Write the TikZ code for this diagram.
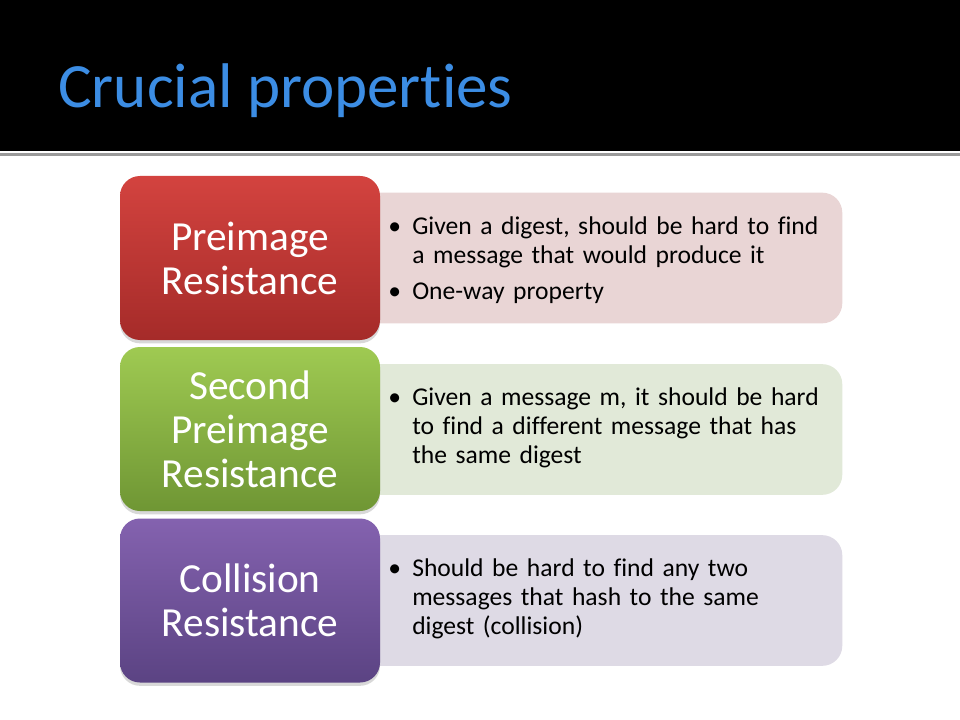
\documentclass[tikz,border=0pt]{standalone}
\usepackage{fontspec}
\setmainfont{Carlito}[Ligatures=NoCommon]
\usetikzlibrary{shadows}
\definecolor{titleblue}{HTML}{3C8DE4}
\definecolor{redtop}{HTML}{D3433F}
\definecolor{redbot}{HTML}{A52B29}
\definecolor{greentop}{HTML}{9FCA52}
\definecolor{greenbot}{HTML}{6F9634}
\definecolor{violettop}{HTML}{8462AF}
\definecolor{violetbot}{HTML}{5B4383}
\definecolor{redpale}{HTML}{E9D5D5}
\definecolor{greenpale}{HTML}{E1E9D8}
\definecolor{violetpale}{HTML}{DEDAE5}
\definecolor{rule}{HTML}{9A9A9A}
\newcommand{\pitem}[1]{\par\hangindent=18pt\hangafter=1\noindent\makebox[18pt][l]{\textbullet}#1}
\newcommand{\nl}{\hfil\break}
\tikzset{
  keybox/.style 2 args={rounded corners=15pt, top color=#1, bottom color=#2, draw=none,
    minimum width=195pt, minimum height=123pt, text=white, align=center,
    font=\fontsize{31}{33}\selectfont,
    drop shadow={opacity=0.3, shadow xshift=0pt, shadow yshift=-2.5pt}},
  pale/.style={rounded corners=15pt, fill=#1, anchor=west, inner xsep=0pt,
    minimum height=98pt, text width=369pt,
    font=\fontsize{19.2}{21.75}\selectfont},
  heading/.style={anchor=base west, inner sep=0pt, text=titleblue,
    font=\fontsize{47.3}{50}\selectfont}
}
\begin{document}
\begin{tikzpicture}[x=0.75pt,y=0.75pt]
\useasboundingbox (0,0) rectangle (960,-720);
\fill[white] (0,0) rectangle (960,-720);

% Title bar
\fill[black] (0,0) rectangle (960,-151);
\fill[rule] (0,-153) rectangle (960,-156);
\node[heading] (title) at (58,-108) {Crucial properties};

% Descriptions
\node[pale=redpale] (preinfo) at (350,-258) {\leftskip=28.5pt\parskip=5pt
  \pitem{Given a digest, should be hard to find\nl a message that would produce it}
  \pitem{One-way property}\par\kern 10.5pt};
\node[pale=greenpale] (secinfo) at (350,-429.5) {\leftskip=28.5pt
  \pitem{Given a message m, it should be hard\nl to find a different message that has\nl the same digest}\par\kern 10.5pt};
\node[pale=violetpale] (collinfo) at (350,-600.5) {\leftskip=28.5pt
  \pitem{Should be hard to find any two\nl messages that hash to the same\nl digest (collision)}\par\kern 10.5pt};

% Properties
\node[keybox={redtop}{redbot}] (preimage) at (250,-258) {Preimage\\Resistance};
\node[keybox={greentop}{greenbot}] (second) at (250,-429) {Second\\Preimage\\Resistance};
\node[keybox={violettop}{violetbot}] (collision) at (250,-600.5) {Collision\\Resistance};

\end{tikzpicture}
\end{document}
